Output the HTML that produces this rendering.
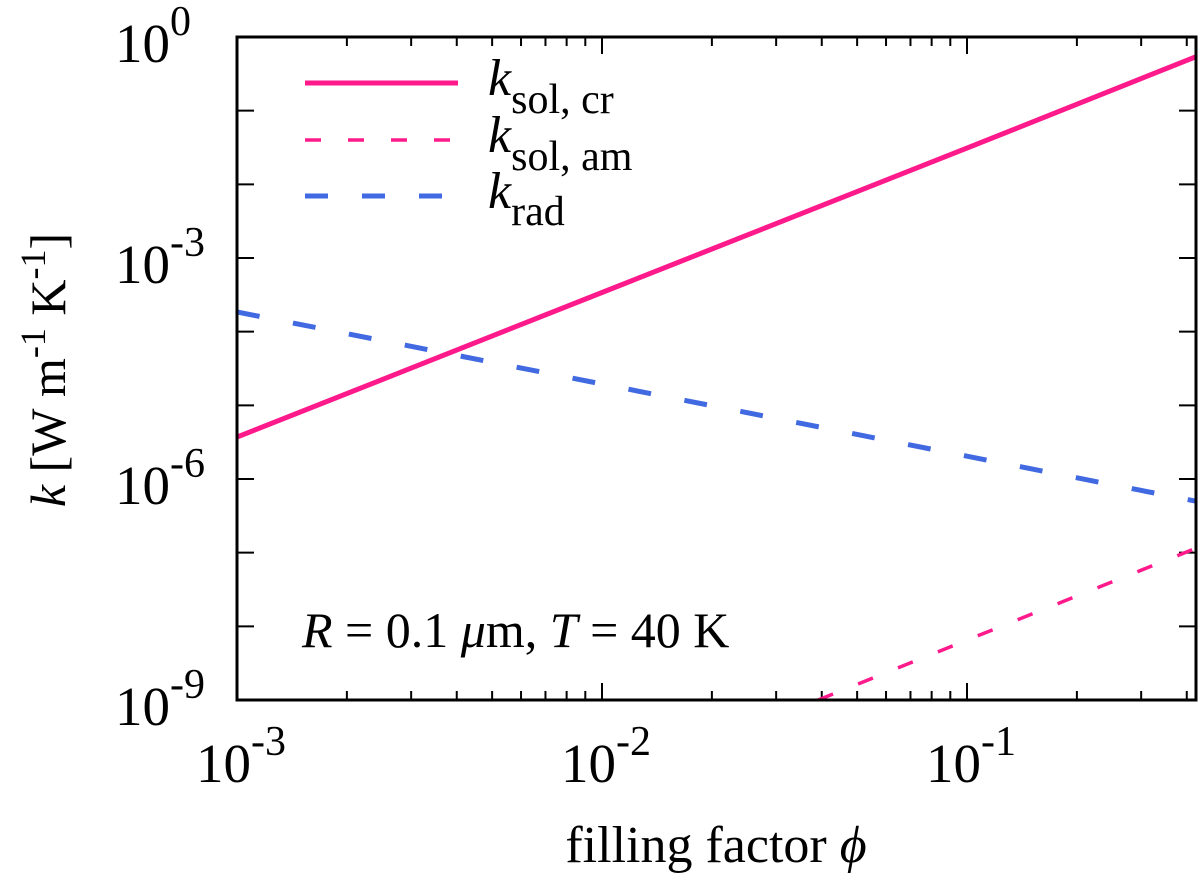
<!DOCTYPE html>
<html><head><meta charset="utf-8"><style>
html,body{margin:0;padding:0;background:#fff;}
svg{display:block;font-family:"Liberation Serif",serif;}
</style></head><body>
<svg id="chart" width="1200" height="877" viewBox="0 0 1200 877">
<g id="ticks"></g>
<g id="series"></g>
<rect x="237" y="37" width="959" height="663" fill="none" stroke="#000" stroke-width="3"/>
<g id="labels" font-size="55"></g>
<text x="716" y="862" font-size="52" text-anchor="middle">filling factor <tspan font-style="italic">ϕ</tspan></text>
<text transform="translate(65,370) rotate(-90)" font-size="50" text-anchor="middle"><tspan font-style="italic">k</tspan> [W m<tspan dy="-20" font-size="36">-1</tspan><tspan dy="20"> K</tspan><tspan dy="-20" font-size="36">-1</tspan><tspan dy="20">]</tspan></text>
<text x="302" y="647" font-size="50"><tspan font-style="italic">R</tspan> = 0.1 <tspan font-style="italic">μ</tspan>m, <tspan font-style="italic">T</tspan> = 40 K</text>
<g>
<line x1="305" y1="83" x2="458" y2="83" stroke="#ff1a8c" stroke-width="5"/>
<text x="488" y="95" font-size="52"><tspan font-style="italic">k</tspan><tspan dy="18" font-size="42">sol, cr</tspan></text>
<line x1="305" y1="140" x2="458" y2="140" stroke="#ff1a8c" stroke-width="3.5" stroke-dasharray="16,27"/>
<text x="488" y="152" font-size="52"><tspan font-style="italic">k</tspan><tspan dy="18" font-size="42">sol, am</tspan></text>
<line x1="305" y1="196" x2="458" y2="196" stroke="#4169e1" stroke-width="5" stroke-dasharray="23,34"/>
<text x="488" y="208" font-size="52"><tspan font-style="italic">k</tspan><tspan dy="17" font-size="42">rad</tspan></text>
</g>
</svg>
<script>
const phi = [0.001, 0.01, 0.1, 0.424];
const kSolCr = [3.7e-6, 3.4e-4, 3.1e-2, 0.54];
const phiAm = [0.0391, 0.1, 0.424];
const kSolAm = [1e-9, 6.5e-9, 1.15e-7];
const kRad = [1.85e-4, 1.95e-5, 2.04e-6, 5e-7];
const xTickLabels = ["-3", "-2", "-1"];
const yTickLabels = ["-9", "-6", "-3", "0"];

const L=237,R=1196,T=37,B=700;
const xmin=-3,xmax=Math.log10(0.424),ymin=-9,ymax=0;
const X=v=>L+(Math.log10(v)-xmin)/(xmax-xmin)*(R-L);
const Y=v=>B-(Math.log10(v)-ymin)/(ymax-ymin)*(B-T);
const NS="http://www.w3.org/2000/svg";
function mk(tag,attrs,parent){const e=document.createElementNS(NS,tag);for(const k in attrs)e.setAttribute(k,attrs[k]);parent.appendChild(e);return e;}
const ticks=document.getElementById('ticks'),labels=document.getElementById('labels'),series=document.getElementById('series');
for(let d=-3;d<0;d++){for(let m=1;m<10;m++){const v=m*Math.pow(10,d);if(Math.log10(v)>xmax+1e-9)continue;const x=X(v);const len=m===1?17:9;
const t1=mk('line',{x1:x,y1:B,x2:x,y2:B-len,stroke:'#000','stroke-width':2},ticks);


const t2=mk('line',{x1:x,y1:T,x2:x,y2:T+len,stroke:'#000','stroke-width':2},ticks);

}}
xTickLabels.forEach(s=>{const x=X(Math.pow(10,+s));const t=mk('text',{x:x-41,y:782},labels);


t.innerHTML='10<tspan dy="-27" font-size="42">'+s+'</tspan>';});
for(let d=-9;d<=0;d++){const y=Y(Math.pow(10,d));
const t1=mk('line',{x1:L,y1:y,x2:L+17,y2:y,stroke:'#000','stroke-width':2},ticks);


const t2=mk('line',{x1:R,y1:y,x2:R-17,y2:y,stroke:'#000','stroke-width':2},ticks);

}
yTickLabels.forEach(s=>{const y=Y(Math.pow(10,+s));const t=mk('text',{x:115,y:y+25},labels);


t.innerHTML='10<tspan dy="-27" font-size="42">'+s+'</tspan>';});
const cp=mk('clipPath',{id:'clip'},series);
mk('rect',{x:L,y:T,width:R-L,height:B-T},cp);
function line(xs,ys,attrs,name){const pts=xs.map((v,i)=>X(v).toFixed(1)+','+Y(ys[i]).toFixed(1)).join(' ');
const p=mk('polyline',Object.assign({points:pts,fill:'none','clip-path':'url(#clip)'},attrs),series);

}
line(phi,kRad,{stroke:'#4169e1','stroke-width':5,'stroke-dasharray':'23,34'},'series-k-rad');
line(phiAm,kSolAm,{stroke:'#ff1a8c','stroke-width':3.5,'stroke-dasharray':'16,27'},'series-k-sol-am');
line(phi,kSolCr,{stroke:'#ff1a8c','stroke-width':5},'series-k-sol-cr');
</script>
</body></html>
